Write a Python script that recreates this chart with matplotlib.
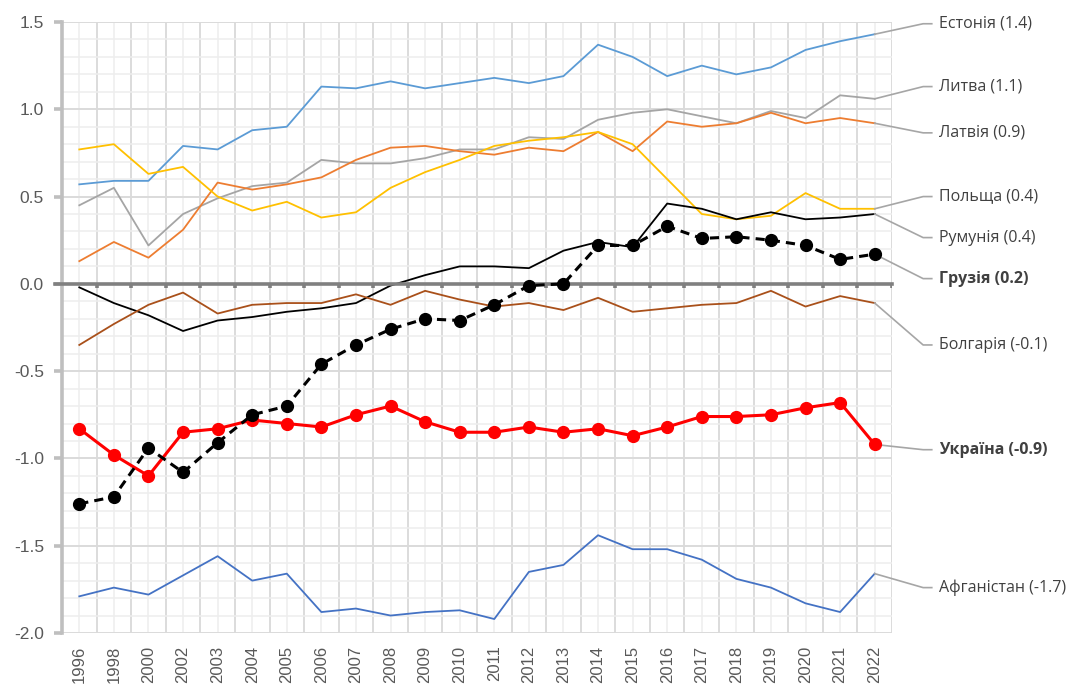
import numpy as np
import matplotlib
matplotlib.use("Agg")
import matplotlib.pyplot as plt

years = ["1996", "1998", "2000", "2002", "2003", "2004", "2005", "2006",
         "2007", "2008", "2009", "2010", "2011", "2012", "2013", "2014",
         "2015", "2016", "2017", "2018", "2019", "2020", "2021", "2022"]

estonia = [0.57, 0.59, 0.59, 0.79, 0.77, 0.88, 0.90, 1.13, 1.12, 1.16, 1.12, 1.15,
           1.18, 1.15, 1.19, 1.37, 1.30, 1.19, 1.25, 1.20, 1.24, 1.34, 1.39, 1.43]
lithuania = [0.45, 0.55, 0.22, 0.40, 0.49, 0.56, 0.58, 0.71, 0.69, 0.69, 0.72, 0.77,
             0.77, 0.84, 0.83, 0.94, 0.98, 1.00, 0.96, 0.92, 0.99, 0.95, 1.08, 1.06]
latvia = [0.13, 0.24, 0.15, 0.31, 0.58, 0.54, 0.57, 0.61, 0.71, 0.78, 0.79, 0.76,
          0.74, 0.78, 0.76, 0.87, 0.76, 0.93, 0.90, 0.92, 0.98, 0.92, 0.95, 0.92]
poland = [0.77, 0.80, 0.63, 0.67, 0.50, 0.42, 0.47, 0.38, 0.41, 0.55, 0.64, 0.71,
          0.79, 0.82, 0.84, 0.87, 0.80, 0.60, 0.40, 0.37, 0.39, 0.52, 0.43, 0.43]
romania = [-0.02, -0.11, -0.18, -0.27, -0.21, -0.19, -0.16, -0.14, -0.11, -0.01, 0.05, 0.10,
           0.10, 0.09, 0.19, 0.24, 0.21, 0.46, 0.43, 0.37, 0.41, 0.37, 0.38, 0.40]
georgia = [-1.26, -1.22, -0.94, -1.08, -0.91, -0.75, -0.70, -0.46, -0.35, -0.26, -0.20, -0.21,
           -0.12, -0.01, 0.00, 0.22, 0.22, 0.33, 0.26, 0.27, 0.25, 0.22, 0.14, 0.17]
bulgaria = [-0.35, -0.23, -0.12, -0.05, -0.17, -0.12, -0.11, -0.11, -0.06, -0.12, -0.04, -0.09,
            -0.13, -0.11, -0.15, -0.08, -0.16, -0.14, -0.12, -0.11, -0.04, -0.13, -0.07, -0.11]
ukraine = [-0.83, -0.98, -1.10, -0.85, -0.83, -0.78, -0.80, -0.82, -0.75, -0.70, -0.79, -0.85,
           -0.85, -0.82, -0.85, -0.83, -0.87, -0.82, -0.76, -0.76, -0.75, -0.71, -0.68, -0.92]
afghanistan = [-1.79, -1.74, -1.78, -1.67, -1.56, -1.70, -1.66, -1.88, -1.86, -1.90, -1.88, -1.87,
               -1.92, -1.65, -1.61, -1.44, -1.52, -1.52, -1.58, -1.69, -1.74, -1.83, -1.88, -1.66]

labels = ["Естонія (1.4)", "Литва (1.1)", "Латвія (0.9)", "Польща (0.4)", "Румунія (0.4)",
          "Грузія (0.2)", "Болгарія (-0.1)", "Україна (-0.9)", "Афганістан (-1.7)"]
label_pos = [1.49, 1.13, 0.865, 0.50, 0.265, 0.03, -0.35, -0.95, -1.74]

x = np.arange(len(years))

fig = plt.figure(figsize=(10.85, 6.89), dpi=100)
ax = fig.add_axes([62 / 1085, 1 - 633 / 689, 830 / 1085, 611 / 689])

# grid: boundaries and 0.5 steps darker, centres and 0.1 steps lighter
for b in np.arange(-0.5, len(years), 1.0):
    ax.axvline(b, color="#d9d9d9", lw=1.3, zorder=0)
for c in x:
    ax.axvline(c, color="#eeeeee", lw=1.1, zorder=0)
for v in np.arange(-2.0, 1.51, 0.1):
    ax.axhline(v, color="#eeeeee", lw=1.1, zorder=0)
for v in np.arange(-2.0, 1.51, 0.5):
    ax.axhline(v, color="#d9d9d9", lw=1.3, zorder=0)

ax.plot(x, estonia, color="#5b9bd5", lw=1.3)
ax.plot(x, lithuania, color="#a5a5a5", lw=1.3)
ax.plot(x, latvia, color="#ed7d31", lw=1.3)
ax.plot(x, poland, color="#ffc000", lw=1.3)
ax.plot(x, romania, color="black", lw=1.3)
ax.plot(x, bulgaria, color="#a9501a", lw=1.3)
ax.plot(x, afghanistan, color="#4472c4", lw=1.3)
ax.plot(x, ukraine, color="#ff0000", lw=2.2, marker="o", markersize=8.5, zorder=5)
ax.plot(x, georgia, color="black", lw=2.2, ls=(0, (3, 2)), marker="o", markersize=8.5, zorder=6)

# zero line with tick marks at category boundaries
ax.axhline(0, color="#808080", lw=2.6, zorder=3, xmin=-0.008, clip_on=False)
ax.vlines(np.arange(0.5, len(years), 1.0), -0.025, 0, color="#808080", lw=2.6, zorder=3)

# leader lines and labels
last = [estonia[-1], lithuania[-1], latvia[-1], poland[-1], romania[-1],
        georgia[-1], bulgaria[-1], ukraine[-1], afghanistan[-1]]
for name, yv, yl in zip(labels, last, label_pos):
    ax.plot([x[-1], 24.4, 24.65], [yv, yl, yl], color="#a6a6a6", lw=1.2, clip_on=False, zorder=2)
    bold = name.startswith("Грузія") or name.startswith("Україна")
    ax.text(24.85, yl, name, ha="left", va="center", fontsize=11.5,
            fontweight="bold" if bold else "normal", color="#404040",
            family="Open Sans")

ax.set_xlim(-0.5, len(years) - 0.5)
ax.set_ylim(-2.0, 1.5)
ax.set_yticks(np.arange(-2.0, 1.51, 0.5))
ax.set_yticklabels(["%.1f" % v for v in np.arange(-2.0, 1.51, 0.5)])
ax.set_xticks(x)
ax.set_xticklabels(years, rotation=90)

for s in ["top", "right", "bottom"]:
    ax.spines[s].set_visible(False)
ax.spines["left"].set_color("#bfbfbf")
ax.spines["left"].set_linewidth(2.6)
ax.tick_params(axis="y", length=6, width=2.6, color="#bfbfbf", labelcolor="#595959",
               labelsize=12.5, pad=7)
ax.tick_params(axis="x", length=0, labelcolor="#595959", labelsize=12, pad=9)
for t in ax.get_xticklabels() + ax.get_yticklabels():
    t.set_family("Liberation Sans")

fig.savefig("out.png", dpi=100)
